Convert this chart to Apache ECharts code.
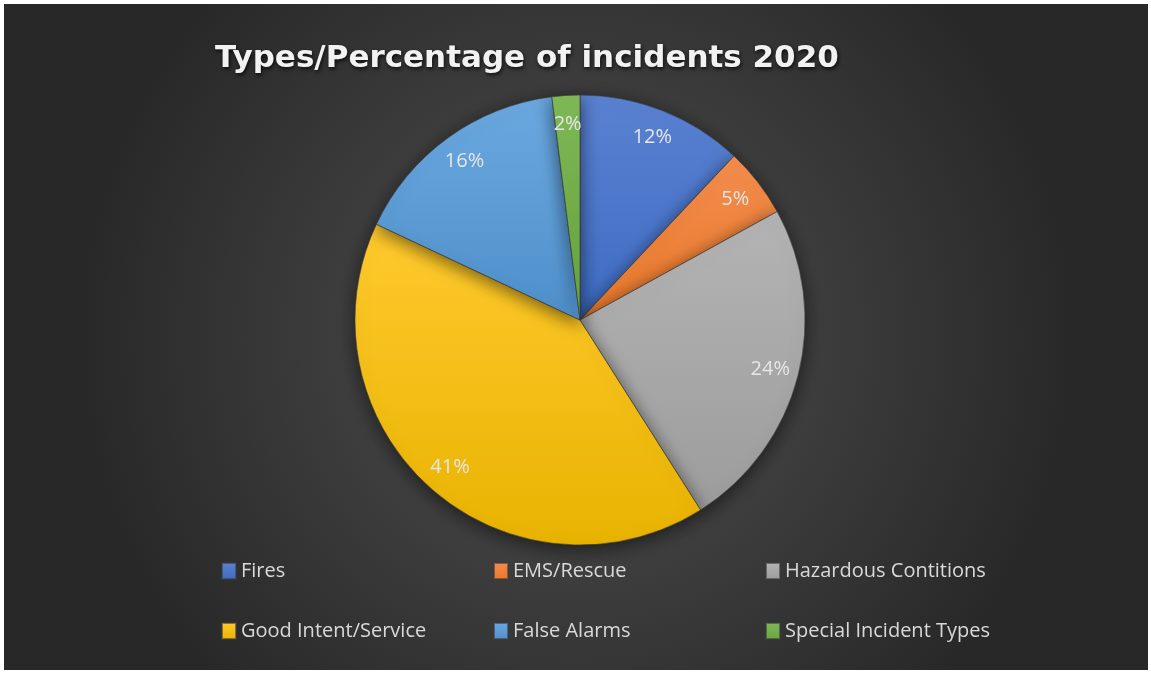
<!DOCTYPE html>
<html>
<head>
<meta charset="utf-8">
<script src="https://cdn.jsdelivr.net/npm/echarts@6/dist/echarts.min.js"></script>
<style>
  html, body { margin: 0; padding: 0; background: #ffffff; }
  #chart { position: absolute; left: 4px; top: 4px; width: 1144px; height: 666px; }
</style>
</head>
<body>
<div id="chart"></div>
<script>
// incident types and their share in percent
var categories = ['Fires', 'EMS/Rescue', 'Hazardous Contitions', 'Good Intent/Service', 'False Alarms', 'Special Incident Types']
var percents = [12, 5, 24, 41, 16, 2]
var colorsTop = ['#5b82d2', '#f38d4e', '#b4b4b4', '#ffca2e', '#6aa8e0', '#80ba58']
var colorsBottom = ['#3e6bc2', '#e8782a', '#9c9c9c', '#e8b300', '#4f8fc9', '#68a53f']

var chart = echarts.init(document.getElementById('chart'))

function slices() {
    return categories.map(function (name, i) {
        return {
            name: name,
            value: percents[i],
            itemStyle: {
                color: new echarts.graphic.LinearGradient(0, 0, 0, 1, [
                    { offset: 0, color: colorsTop[i] },
                    { offset: 1, color: colorsBottom[i] }
                ])
            }
        }
    })
}

chart.setOption({
    backgroundColor: new echarts.graphic.RadialGradient(0.5, 0.5, 0.75, [
        { offset: 0, color: '#505050' },
        { offset: 1, color: '#282828' }
    ]),
    title: {
        text: 'Types/Percentage of incidents 2020',
        left: 206,
        top: 34,
        textStyle: {
            color: '#f2f2f2',
            fontFamily: 'DejaVu Sans',
            fontWeight: 'bold',
            fontSize: 31,
            textShadowColor: 'rgba(0,0,0,0.8)',
            textShadowBlur: 4,
            textShadowOffsetX: 1,
            textShadowOffsetY: 2
        }
    },
    legend: {
        left: 212,
        top: 532,
        width: 830,
        itemWidth: 14,
        itemHeight: 16,
        itemGap: 0,
        icon: 'rect',
        data: categories,
        textStyle: {
            color: '#d9d9d9',
            fontFamily: 'Open Sans',
            fontSize: 20,
            width: 252,
            lineHeight: 60
        }
    },
    series: [
        {
            type: 'pie',
            center: [576, 316],
            radius: 225,
            startAngle: 90,
            clockwise: true,
            silent: true,
            label: { show: false },
            labelLine: { show: false },
            itemStyle: {
                borderColor: 'rgba(60,60,60,0.6)',
                borderWidth: 0.6,
                shadowColor: 'rgba(0,0,0,0.55)',
                shadowBlur: 18,
                shadowOffsetY: 4
            },
            data: slices()
        },
        {
            // transparent ring used only to place labels near the rim
            type: 'pie',
            center: [576, 316],
            radius: [162, 225],
            startAngle: 90,
            clockwise: true,
            silent: true,
            itemStyle: { color: 'rgba(0,0,0,0)', borderWidth: 0 },
            label: {
                show: true,
                position: 'inside',
                formatter: '{c}%',
                color: '#e6e6e6',
                fontFamily: 'Open Sans',
                fontSize: 20
            },
            labelLine: { show: false },
            data: categories.map(function (name, i) {
                return { name: name, value: percents[i] }
            })
        }
    ]
})
</script>
</body>
</html>
